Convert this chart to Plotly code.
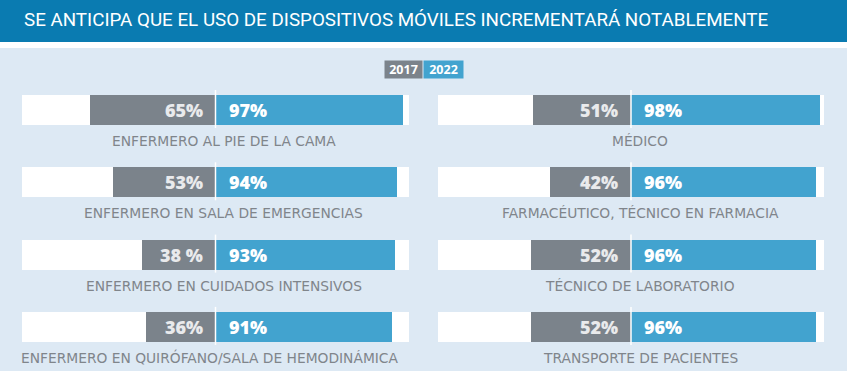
import plotly.graph_objects as go

# ---- data ----
left_categories = ["ENFERMERO AL PIE DE LA CAMA", "ENFERMERO EN SALA DE EMERGENCIAS",
                   "ENFERMERO EN CUIDADOS INTENSIVOS", "ENFERMERO EN QUIRÓFANO/SALA DE HEMODINÁMICA"]
left_2017 = [65, 53, 38, 36]
left_2022 = [97, 94, 93, 91]
left_2017_labels = ["65%", "53%", "38 %", "36%"]
left_2022_labels = ["97%", "94%", "93%", "91%"]

right_categories = ["MÉDICO", "FARMACÉUTICO, TÉCNICO EN FARMACIA",
                    "TÉCNICO DE LABORATORIO", "TRANSPORTE DE PACIENTES"]
right_2017 = [51, 42, 52, 52]
right_2022 = [98, 96, 96, 96]
right_2017_labels = ["51%", "42%", "52%", "52%"]
right_2022_labels = ["98%", "96%", "96%", "96%"]

years = ["2017", "2022"]
title = "SE ANTICIPA QUE EL USO DE DISPOSITIVOS MÓVILES INCREMENTARÁ NOTABLEMENTE"

# ---- style ----
W, H = 847, 371
HEADER = "#0a7bb1"
PANEL = "#dde9f4"
GRAY = "#7b838b"
BLUE = "#42a3cf"
LABEL = "#80858b"
PCT_FONT = "Open Sans"
# horizontal pixel offsets of the category captions relative to the bar centre
left_label_shift = [8, 8, 8, -6]
right_label_shift = [9, 9, 9, 9]

rows = list(range(len(left_categories)))
pitch = 72.3
first_center = 110
y_top = -first_center / pitch
y_bot = (H - first_center) / pitch
bar_w = 30 / pitch

fig = go.Figure()

panels = [
    ("x", left_categories, left_2017, left_2022, left_2017_labels, left_2022_labels, left_label_shift),
    ("x2", right_categories, right_2017, right_2022, right_2017_labels, right_2022_labels, right_label_shift),
]

annotations = []
shapes = [
    dict(type="rect", xref="paper", yref="paper", x0=0, x1=1, y0=1 - 42 / H, y1=1,
         fillcolor=HEADER, line_width=0, layer="below"),
    dict(type="rect", xref="paper", yref="paper", x0=0, x1=1, y0=0, y1=1 - 48 / H,
         fillcolor=PANEL, line_width=0, layer="below"),
]

for xa, cats, v17, v22, l17, l22, lshift in panels:
    fig.add_trace(go.Bar(y=rows, x=[200] * len(rows), base=-100, orientation="h",
                         marker=dict(color="white", line_width=0), width=bar_w,
                         xaxis=xa, yaxis="y", hoverinfo="skip", showlegend=False))
    fig.add_trace(go.Bar(y=rows, x=[-v for v in v17], base=0, orientation="h",
                         marker=dict(color=GRAY, line_width=0), width=bar_w,
                         xaxis=xa, yaxis="y", name=years[0], showlegend=False))
    fig.add_trace(go.Bar(y=rows, x=v22, base=0, orientation="h",
                         marker=dict(color=BLUE, line_width=0), width=bar_w,
                         xaxis=xa, yaxis="y", name=years[1], showlegend=False))
    for i in rows:
        shapes.append(dict(type="line", xref=xa, yref="y", x0=0, x1=0,
                           y0=i - bar_w / 2 - 5 / pitch, y1=i + bar_w / 2 + 3 / pitch,
                           line=dict(color="white", width=1.5)))
        annotations.append(dict(xref=xa, yref="y", x=0, y=i, text=l17[i], showarrow=False,
                                xanchor="right", yanchor="middle", xshift=-11, yshift=0,
                                font=dict(family=PCT_FONT, size=18, color="#e9eaec", weight=800)))
        annotations.append(dict(xref=xa, yref="y", x=0, y=i, text=l22[i], showarrow=False,
                                xanchor="left", yanchor="middle", xshift=11, yshift=0,
                                font=dict(family=PCT_FONT, size=18, color="white", weight=800)))
        annotations.append(dict(xref=xa, yref="y", x=0, y=i, text=cats[i], showarrow=False,
                                xanchor="center", yanchor="middle", yshift=-31, xshift=lshift[i],
                                font=dict(family="DejaVu Sans", size=13.8, color=LABEL)))

# title
annotations.append(dict(xref="paper", yref="paper", x=22 / W, y=1 - 20 / H, text=title,
                        showarrow=False, xanchor="left", yanchor="middle",
                        font=dict(family="Roboto", size=18.8, color="white")))
# legend boxes
annotations.append(dict(xref="paper", yref="paper", x=423 / W, y=1 - 69.5 / H, text="<b>" + years[0] + "</b>",
                        showarrow=False, xanchor="right", yanchor="middle", width=35, height=15,
                        bgcolor=GRAY, borderpad=1,
                        font=dict(family="Open Sans", size=12.5, color="white")))
annotations.append(dict(xref="paper", yref="paper", x=423 / W, y=1 - 69.5 / H, text="<b>" + years[1] + "</b>",
                        showarrow=False, xanchor="left", yanchor="middle", width=37, height=15,
                        bgcolor=BLUE, borderpad=1,
                        font=dict(family="Open Sans", size=12.5, color="white")))

fig.update_layout(
    width=W, height=H, margin=dict(l=0, r=0, t=0, b=0),
    paper_bgcolor="white", plot_bgcolor="rgba(0,0,0,0)",
    barmode="overlay", bargap=0,
    xaxis=dict(domain=[22 / W, 409 / W], range=[-100, 100], visible=False, fixedrange=True, anchor="y"),
    xaxis2=dict(domain=[438 / W, 824 / W], range=[-100, 100], visible=False, fixedrange=True, anchor="y"),
    yaxis=dict(domain=[0, 1], range=[y_bot, y_top], visible=False, fixedrange=True),
    shapes=shapes, annotations=annotations, showlegend=False,
)

fig.write_html("out.html", config={"displayModeBar": False},
               post_script="document.body.style.margin='0';document.body.style.overflow='hidden';")
